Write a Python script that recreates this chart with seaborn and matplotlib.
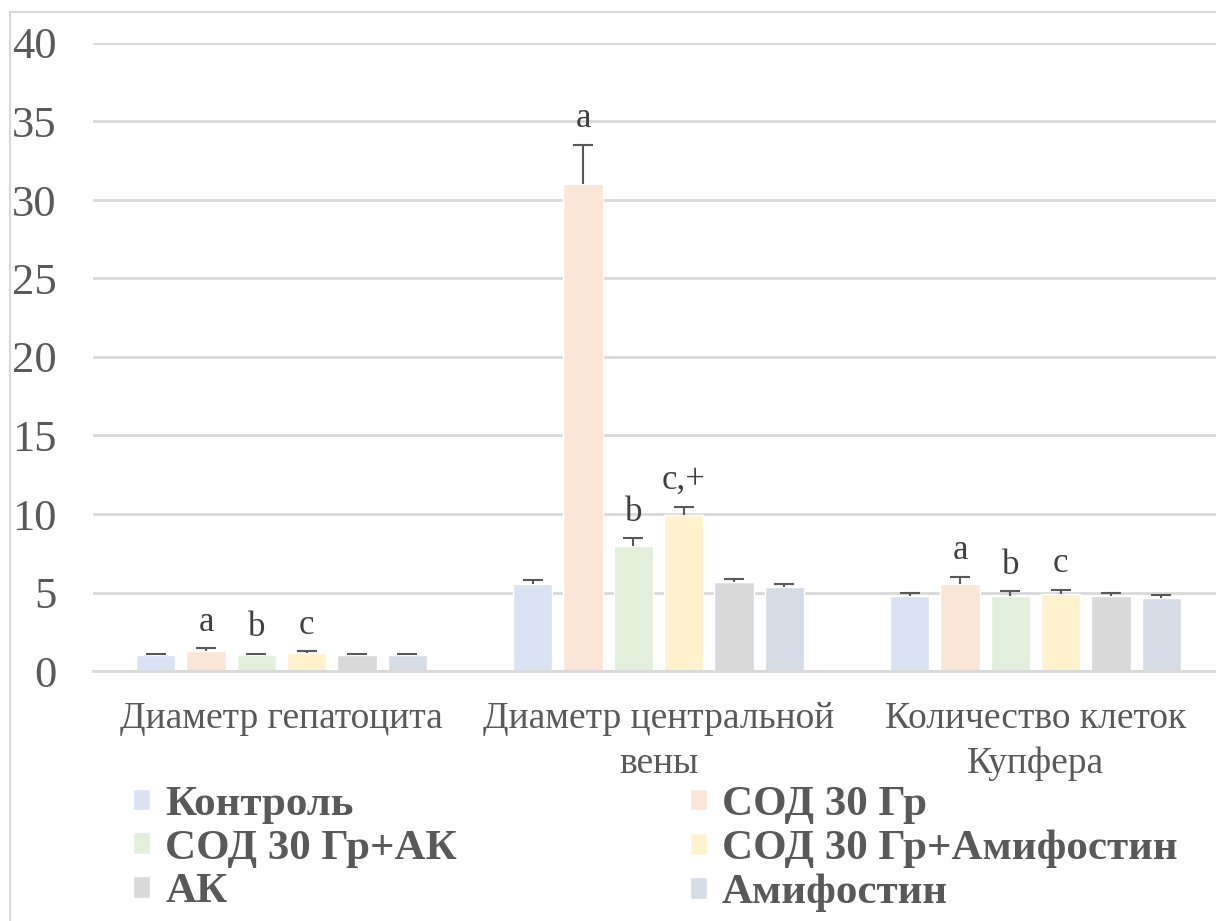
import matplotlib

matplotlib.use("Agg")

import matplotlib.pyplot as plt
import numpy as np
import pandas as pd
import seaborn as sns
from matplotlib.patches import Rectangle

# --- data -----------------------------------------------------------------
categories = [
    "Диаметр гепатоцита",
    "Диаметр центральной\nвены",
    "Количество клеток\nКупфера",
]
groups = [
    "Контроль",
    "СОД 30 Гр",
    "СОД 30 Гр+АК",
    "СОД 30 Гр+Амифостин",
    "АК",
    "Амифостин",
]
means = {
    "Контроль": [1.05, 5.55, 4.78],
    "СОД 30 Гр": [1.3, 31.0, 5.55],
    "СОД 30 Гр+АК": [1.05, 7.95, 4.78],
    "СОД 30 Гр+Амифостин": [1.15, 9.95, 4.88],
    "АК": [1.05, 5.65, 4.78],
    "Амифостин": [1.05, 5.35, 4.65],
}
errors = {
    "Контроль": [0.05, 0.22, 0.2],
    "СОД 30 Гр": [0.15, 2.5, 0.45],
    "СОД 30 Гр+АК": [0.05, 0.5, 0.3],
    "СОД 30 Гр+Амифостин": [0.1, 0.5, 0.27],
    "АК": [0.05, 0.2, 0.2],
    "Амифостин": [0.05, 0.2, 0.2],
}
sig_labels = {
    "СОД 30 Гр": ["a", "a", "a"],
    "СОД 30 Гр+АК": ["b", "b", "b"],
    "СОД 30 Гр+Амифостин": ["c", "c,+", "c"],
}
colors = ["#DAE3F3", "#FBE5D6", "#E2EFDA", "#FFF2CC", "#D9D9D9", "#D6DCE5"]

rows = []
for g in groups:
    for c, m, e in zip(categories, means[g], errors[g]):
        rows.append({"category": c, "group": g, "value": m, "err": e})
df = pd.DataFrame(rows)

# --- figure ---------------------------------------------------------------
W, H = 1216, 921
sns.set_theme(style="white")
plt.rcParams["font.family"] = ["Liberation Serif", "DejaVu Serif"]
text_color = "#595959"

fig = plt.figure(figsize=(W / 100, H / 100), dpi=100)
ax = fig.add_axes([93 / W, 250 / H, 1131 / W, 628 / H])

sns.barplot(
    data=df, x="category", y="value", hue="group",
    order=categories, hue_order=groups, palette=colors,
    width=0.8, gap=0.22, errorbar=None, saturation=1, ax=ax,
)

# error bars (upper half only) and significance letters
bars = ax.patches[: len(groups) * len(categories)]
for gi, g in enumerate(groups):
    for ci in range(len(categories)):
        bar = bars[gi * len(categories) + ci]
        x = bar.get_x() + bar.get_width() / 2
        y = bar.get_height()
        e = errors[g][ci]
        _, caps, _ = ax.errorbar(x, y, yerr=[[0], [e]], fmt="none", ecolor=text_color,
                                 elinewidth=1.5, capsize=7, capthick=1.5)
        caps[0].set_visible(False)
        lab = sig_labels.get(g, ["", "", ""])[ci]
        if lab:
            ax.annotate(lab, (x, y + e), xytext=(0, 7), textcoords="offset points",
                        ha="center", va="bottom", fontsize=25, color="#404040")

ax.set_ylim(0, 40)
ax.set_xlim(-0.5, 2.5)
ax.set_yticks(np.arange(0, 41, 5))
ax.yaxis.grid(True, color="#D9D9D9", linewidth=2)
ax.set_axisbelow(True)
for s in ["top", "right", "left"]:
    ax.spines[s].set_visible(False)
ax.spines["bottom"].set_color("#D9D9D9")
ax.spines["bottom"].set_linewidth(2)
ax.tick_params(axis="y", length=0, pad=26, labelsize=32, labelcolor=text_color)
ax.tick_params(axis="x", length=0, pad=22, labelsize=27, labelcolor=text_color)
for t in ax.get_xticklabels():
    t.set_linespacing(1.38)
ax.set_xlabel("")
ax.set_ylabel("")

handles, labels = ax.get_legend_handles_labels()
order = [0, 2, 4, 1, 3, 5]
leg = ax.legend(
    [handles[i] for i in order], [labels[i] for i in order],
    ncol=2, loc="upper left", bbox_to_anchor=(133 / W, 1 - 786 / H),
    bbox_transform=fig.transFigure, frameon=False,
    prop={"weight": "bold", "size": 31}, labelcolor=text_color,
    handlelength=0.4, handleheight=0.4, handletextpad=0.35,
    labelspacing=0.13, columnspacing=5.4, borderpad=0, borderaxespad=0,
)

fig.patches.append(Rectangle((10 / W, -0.1), 1.2, (H - 12) / H + 0.1,
                             transform=fig.transFigure, fill=False,
                             edgecolor="#D9D9D9", linewidth=1.5))

fig.savefig("out.png", dpi=100)
